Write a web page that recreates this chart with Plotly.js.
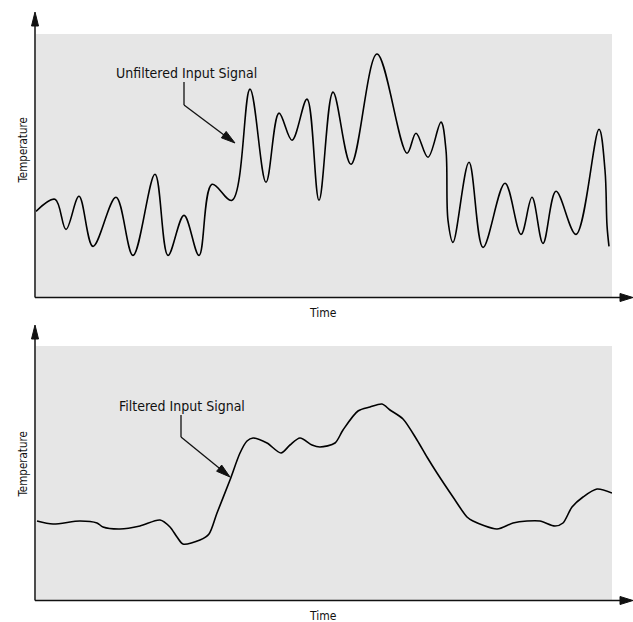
<!DOCTYPE html>
<html>
<head>
<meta charset="utf-8">
<script src="https://cdn.plot.ly/plotly-3.0.1.min.js"></script>
<style>html,body{margin:0;padding:0;background:#fff;}#chart{width:633px;height:622px;}</style>
</head>
<body>
<div id="chart"></div>
<script>
// Unfiltered signal (time, temperature) - arbitrary units
var rawTime = [0,19,30,43,57,80,97,119,132,148,163,176,196,214,230,243,256,271,283,297,315,341,371,380,392,405,410,412,417,433,447,469,485,496,507,520,540,563,569,571,573];
var rawTemp = [86,98,68,101,51,100,42,123,42,82,42,113,97,208,115,184,157,198,97,205,133,243,144,164,140,175,147,77,55,135,50,114,63,100,54,106,63,168,127,72,51];

// Filtered signal
var filtTime = [1,17,44,61,67,84,104,124,134,141,147,164,173,181,194,204,211,217,231,245,254,264,276,284,299,307,322,334,346,354,367,381,391,401,417,431,437,461,477,491,504,519,527,536,547,561,576];
var filtTemp = [79,76,79,77,73,71,74,80,73,63,56,60,66,87,120,147,159,162,157,147,155,162,155,153,157,170,189,193,196,190,181,160,143,127,103,83,79,71,77,79,79,74,77,93,103,111,107];

var topLabel = "Unfiltered Input Signal";
var bottomLabel = "Filtered Input Signal";
var xLabel = "Time";
var yLabel = "Temperature";

var FONT = "'Liberation Sans Narrow', 'Arial Narrow', 'DejaVu Sans Condensed', sans-serif";
var W = 633, H = 622, ML = 36, MR = 21, MT = 34, MB = 22;
var PW = W - ML - MR, PH = H - MT - MB;
function X(px){ return (px - ML) / PW; }
function Y(py){ return (H - MB - py) / PH; }

var shapes = [];
function line(x0,y0,x1,y1,w){
  shapes.push({type:'line', xref:'paper', yref:'paper', x0:X(x0), y0:Y(y0), x1:X(x1), y1:Y(y1),
    line:{color:'#111', width:w||1.5}, layer:'above'});
}
function head(tx,ty,fx,fy,len,hw){
  var dx = tx-fx, dy = ty-fy, L = Math.sqrt(dx*dx+dy*dy);
  var ux = dx/L, uy = dy/L;
  var bx = tx-ux*len, by = ty-uy*len;
  var px = -uy*hw, py = ux*hw;
  var p = 'M '+X(tx)+' '+Y(ty)+' L '+X(bx+px)+' '+Y(by+py)+' L '+X(bx-px)+' '+Y(by-py)+' Z';
  shapes.push({type:'path', xref:'paper', yref:'paper', path:p, fillcolor:'#111', line:{color:'#111', width:1}, layer:'above'});
}
// axes with arrows
line(35,297.5,35,24); head(35,12,35,297,14,3.5);
line(35,297.5,622,297.5); head(633,297.5,35,297.5,13,4);
line(35,600.5,35,337); head(35,325,35,600,14,3.5);
line(35,600.5,622,600.5); head(633,600.5,35,600.5,13,4);
// callouts
line(184,82,184,105,1.3); line(184,105,228,138,1.3); head(235,143,184,105,14,4);
line(181,415,181,437,1.3); line(181,437,224,472,1.3); head(230,477,181,437,14,4);

var annotations = [
  {text:topLabel, x:X(186), y:Y(73), xref:'paper', yref:'paper', showarrow:false, xanchor:'center', yanchor:'middle', font:{family:FONT, size:14, color:'#111'}},
  {text:bottomLabel, x:X(181.5), y:Y(406), xref:'paper', yref:'paper', showarrow:false, xanchor:'center', yanchor:'middle', font:{family:FONT, size:14, color:'#111'}},
  {text:xLabel, x:X(323), y:Y(313), xref:'paper', yref:'paper', showarrow:false, xanchor:'center', yanchor:'middle', font:{family:FONT, size:12, color:'#111'}},
  {text:xLabel, x:X(323), y:Y(616), xref:'paper', yref:'paper', showarrow:false, xanchor:'center', yanchor:'middle', font:{family:FONT, size:12, color:'#111'}},
  {text:yLabel, x:X(22.5), y:Y(151), xref:'paper', yref:'paper', showarrow:false, textangle:-90, xanchor:'center', yanchor:'middle', font:{family:FONT, size:11.5, color:'#111'}},
  {text:yLabel, x:X(22.5), y:Y(465), xref:'paper', yref:'paper', showarrow:false, textangle:-90, xanchor:'center', yanchor:'middle', font:{family:FONT, size:11.5, color:'#111'}}
];

var traces = [
  {x:rawTime, y:rawTemp, xaxis:'x', yaxis:'y', mode:'lines', line:{color:'#000', width:1.6, shape:'spline', smoothing:1}, hoverinfo:'skip'},
  {x:filtTime, y:filtTemp, xaxis:'x2', yaxis:'y2', mode:'lines', line:{color:'#000', width:1.6, shape:'spline', smoothing:0.8}, hoverinfo:'skip'}
];

var ax = {showgrid:false, zeroline:false, showline:false, showticklabels:false, ticks:'', fixedrange:true};
var layout = {
  width:W, height:H, margin:{l:ML, r:MR, t:MT, b:MB, pad:0},
  paper_bgcolor:'#fff', plot_bgcolor:'#e6e6e6', showlegend:false,
  xaxis: Object.assign({domain:[0,1], anchor:'y', range:[0,576]}, ax),
  yaxis: Object.assign({domain:[Y(297.5),1], anchor:'x', range:[0,263]}, ax),
  xaxis2: Object.assign({domain:[0,1], anchor:'y2', range:[0,576]}, ax),
  yaxis2: Object.assign({domain:[0,Y(346)], anchor:'x2', range:[0,254]}, ax),
  shapes:shapes, annotations:annotations
};
Plotly.newPlot('chart', traces, layout, {displayModeBar:false, staticPlot:true});
</script>
</body>
</html>
